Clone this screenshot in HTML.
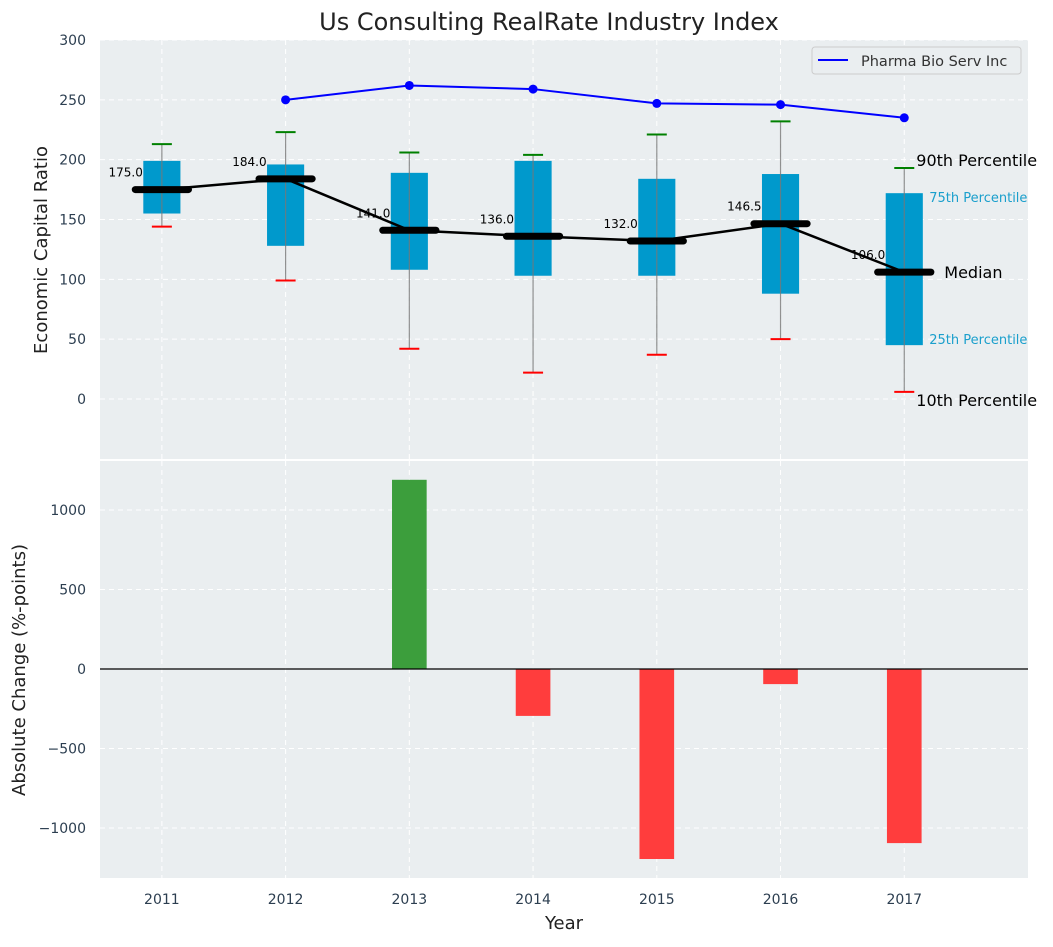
<!DOCTYPE html>
<html><head><meta charset="utf-8">
<style>
body{margin:0;background:#fff;font-family:"Liberation Sans","DejaVu Sans",sans-serif;}
svg text{font-family:"DejaVu Sans","Liberation Sans",sans-serif;}
</style></head>
<body>
<svg id="chart" width="1053" height="942" xmlns="http://www.w3.org/2000/svg">
<text x="549" y="30" font-size="24" fill="#222" text-anchor="middle">Us Consulting RealRate Industry Index</text>
<rect x="100" y="40" width="928" height="419" fill="#eaeef0"/>
<rect x="100" y="461" width="928" height="417" fill="#eaeef0"/>
<g id="grid"></g>
<g id="marks"></g>
<text transform="translate(47,250) rotate(-90)" font-size="18" fill="#222" text-anchor="middle">Economic Capital Ratio</text>
<text transform="translate(25,670) rotate(-90)" font-size="18" fill="#222" text-anchor="middle">Absolute Change (%-points)</text>
<text x="564" y="929" font-size="18" fill="#222" text-anchor="middle">Year</text>
<g>
<rect x="812" y="47" width="209" height="27" rx="3" fill="#eaeef0" stroke="#ccc"/>
<line x1="818" y1="60" x2="848" y2="60" stroke="#0000ff" stroke-width="2"/>
<text x="861" y="66" font-size="14.5" fill="#333">Pharma Bio Serv Inc</text>
</g>
</svg>
<script>
const years=[2011,2012,2013,2014,2015,2016,2017];
const p10=[144,99,42,22,37,50,6];
const p25=[155,128,108,103,103,88,45];
const median=[175,184,141,136,132,146.5,106];
const p75=[199,196,189,199,184,188,172];
const p90=[213,223,206,204,221,232,193];
const pharmaYears=[2012,2013,2014,2015,2016,2017];
const pharmaValues=[250,262,259,247,246,235];
const changeYears=[2013,2014,2015,2016,2017];
const changeValues=[1190,-295,-1195,-95,-1095];
const topTicks=[0,50,100,150,200,250,300];
const botTicks=[-1000,-500,0,500,1000];

const NS="http://www.w3.org/2000/svg";
const xS=v=>100+(v-2010.5)/(7.5)*928;
const yT=v=>399-v*359/300;
const yB=v=>669-v*0.159;
const grid=document.getElementById('grid'),marks=document.getElementById('marks');
function mk(p,tag,a,txt){const e=document.createElementNS(NS,tag);for(const k in a)e.setAttribute(k,a[k]);if(txt!==undefined)e.textContent=txt;p.appendChild(e);return e;}
// grid + ticks
topTicks.forEach(t=>{
 const l=mk(grid,'line',{x1:100,x2:1028,y1:yT(t),y2:yT(t),stroke:'#fff','stroke-dasharray':'5,4'});
 
 
 const tx=mk(grid,'text',{x:86,y:yT(t)+5,'font-size':14,fill:'#2c3e50','text-anchor':'end'},t);
 
 
});
botTicks.forEach(t=>{
 const l=mk(grid,'line',{x1:100,x2:1028,y1:yB(t),y2:yB(t),stroke:'#fff','stroke-dasharray':'5,4'});
 
 
 const tx=mk(grid,'text',{x:86,y:yB(t)+5,'font-size':14,fill:'#2c3e50','text-anchor':'end'},(t<0?'\u2212'+(-t):t));
 
 
});
years.forEach(y=>{
 [[40,459],[461,878]].forEach(r=>{
  const l=mk(grid,'line',{x1:xS(y),x2:xS(y),y1:r[0],y2:r[1],stroke:'#fff','stroke-dasharray':'5,4'});
  
  
 });
 const tx=mk(grid,'text',{x:xS(y),y:904,'font-size':14,fill:'#2c3e50','text-anchor':'middle'},y);
 
 
});
// boxes
const bw=0.3*928/7.5/2, mw=0.43*928/7.5/2;
years.forEach((y,i)=>{
 const cx=xS(y);
 const b=mk(marks,'rect',{x:cx-bw,y:yT(p75[i]),width:2*bw,height:yT(p25[i])-yT(p75[i]),fill:'#0099cc'});
 
 
 const w=mk(marks,'line',{x1:cx,x2:cx,y1:yT(p90[i]),y2:yT(p10[i]),stroke:'#777','stroke-width':1.2,'stroke-opacity':0.8});
 
 
 const c1=mk(marks,'line',{x1:cx-10,x2:cx+10,y1:yT(p90[i]),y2:yT(p90[i]),stroke:'green','stroke-width':2});
 
 
 const c2=mk(marks,'line',{x1:cx-10,x2:cx+10,y1:yT(p10[i]),y2:yT(p10[i]),stroke:'red','stroke-width':2});
 
 
});
const mp=mk(marks,'polyline',{points:years.map((y,i)=>xS(y)+','+yT(median[i])).join(' '),fill:'none',stroke:'#000','stroke-width':2.5});


years.forEach((y,i)=>{
 const cx=xS(y);
 const m=mk(marks,'line',{x1:cx-mw,x2:cx+mw,y1:yT(median[i]),y2:yT(median[i]),stroke:'#000','stroke-width':7,'stroke-linecap':'round'});
 
 
 const t=mk(marks,'text',{x:cx-19,y:yT(median[i])-13,'font-size':12,fill:'#000','text-anchor':'end'},median[i].toFixed(1));
 
 
});
// pharma
const pl=mk(marks,'polyline',{points:pharmaYears.map((y,i)=>xS(y)+','+yT(pharmaValues[i])).join(' '),fill:'none',stroke:'#0000ff','stroke-width':2});


pharmaYears.forEach((y,i)=>{
 const c=mk(marks,'circle',{cx:xS(y),cy:yT(pharmaValues[i]),r:4.5,fill:'#0000ff'});
 
 
});
// annotations for last box
const lx=xS(2017), li=6;
const ann=[['90th Percentile',lx+12,yT(p90[li])-2,16,'#000','start'],['75th Percentile',lx+25,yT(p75[li])+9,13,'#1a9fcc','start'],['Median',lx+40,yT(median[li])+6,16,'#000','start'],['25th Percentile',lx+25,yT(p25[li])-1,13,'#1a9fcc','start'],['10th Percentile',lx+12,yT(p10[li])+14,16,'#000','start']];
ann.forEach(a=>{
 const t=mk(marks,'text',{x:a[1],y:a[2],'font-size':a[3],fill:a[4]},a[0]);
 
 
});
// bars
const bbw=0.28*928/7.5/2;
changeYears.forEach((y,i)=>{
 const v=changeValues[i];
 const r=mk(marks,'rect',{x:xS(y)-bbw,y:Math.min(yB(v),yB(0)),width:2*bbw,height:Math.abs(yB(v)-yB(0)),fill:v>=0?'#3c9e3c':'#ff3d3d'});
 
 
});
const z=mk(marks,'line',{x1:100,x2:1028,y1:yB(0),y2:yB(0),stroke:'#000','stroke-width':1.2});


</script>
</body></html>
